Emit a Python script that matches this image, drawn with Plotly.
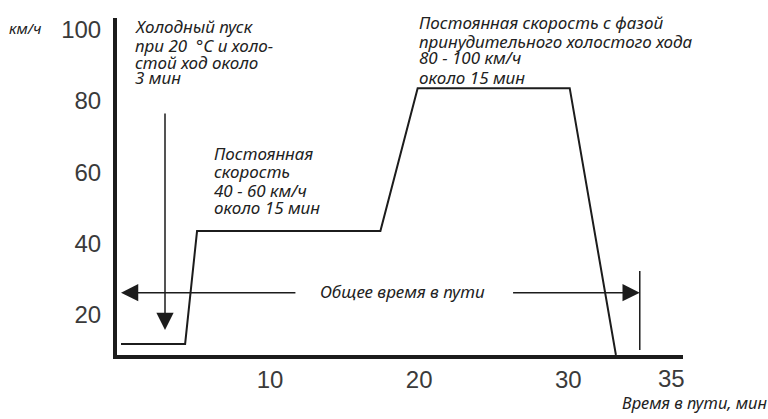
import plotly.graph_objects as go

# Speed profile (time in min, speed in km/h)
time_min = [0.0, 4.3, 5.1, 17.4, 19.9, 30.1, 33.2]
speed_kmh = [11.8, 11.8, 43.5, 43.5, 83.6, 83.6, 8.7]

x_ticks = [10, 20, 30]
y_ticks = [20, 40, 60, 80, 100]

# Total-trip marker and arrows (data coordinates)
total_time = 34.8
total_arrow_speed = 26.2
marker_speed = [10.1, 32.3]
cold_start_time = 2.95
cold_arrow_speed = [76.9, 15.7]

label_cold = ["Холодный пуск", "при 20  °C и холо-", "стой ход около", "3 мин"]
label_mid = ["Постоянная", "скорость", "40 - 60 км/ч", "около 15 мин"]
label_high = ["Постоянная скорость с фазой", "принудительного холостого хода",
              "80 - 100 км/ч", "около 15 мин"]
label_total = "Общее время в пути"
label_xaxis = "Время в пути, мин"
label_yaxis = "км/ч"
label_last_tick = "35"

INK = "#1c1c1c"
TXT = "#222222"
TXTFONT = "Noto Sans"
TICKFONT = dict(family="Liberation Sans", size=24, color="#3a3a3a")

fig = go.Figure()
fig.add_trace(go.Scatter(x=time_min, y=speed_kmh, mode="lines",
                         line=dict(color=INK, width=2), hoverinfo="skip",
                         showlegend=False, cliponaxis=False))
fig.add_trace(go.Scatter(x=[total_time, total_time], y=marker_speed, mode="lines",
                         line=dict(color=INK, width=1.5), hoverinfo="skip",
                         showlegend=False))

ann = []

def arrow(x_tip, y_tip, x_tail, y_tail):
    ann.append(dict(x=x_tip, y=y_tip, ax=x_tail, ay=y_tail, xref="x", yref="y",
                    axref="x", ayref="y", text="", showarrow=True,
                    arrowhead=2, arrowsize=2.3, arrowwidth=1.5, arrowcolor=INK,
                    standoff=0, startstandoff=0))

arrow(cold_start_time, cold_arrow_speed[1], cold_start_time, cold_arrow_speed[0])
arrow(0.0, total_arrow_speed, 11.8, total_arrow_speed)
arrow(total_time, total_arrow_speed, 26.2, total_arrow_speed)

def text_block(lines, x, ys, size=17):
    for t, y in zip(lines, ys):
        ann.append(dict(x=x, y=y, xref="x", yref="y", text="<i>" + t + "</i>",
                        showarrow=False, xanchor="left", yanchor="middle",
                        borderpad=0,
                        font=dict(family=TXTFONT, size=size, color=TXT)))

text_block(label_cold, 0.87, [100.8, 95.7, 90.9, 86.5])
text_block(label_mid, 6.17, [65.4, 60.1, 55.0, 50.0])
text_block(label_high, 19.92, [101.9, 96.8, 92.1, 86.7])

ann.append(dict(x=18.9, y=26.6, xref="x", yref="y", text="<i>" + label_total + "</i>",
                showarrow=False, xanchor="center", yanchor="middle",
                font=dict(family=TXTFONT, size=17, color=TXT)))
# labels outside the plotting area (paper coordinates)
ann.append(dict(x=1.152, y=-0.142, xref="paper", yref="paper",
                text="<i>" + label_xaxis + "</i>",
                showarrow=False, xanchor="right", yanchor="middle",
                font=dict(family=TXTFONT, size=16.5, color=TXT)))
ann.append(dict(x=-0.163, y=0.97, xref="paper", yref="paper",
                text="<i>" + label_yaxis + "</i>",
                showarrow=False, xanchor="center", yanchor="middle",
                font=dict(family=TXTFONT, size=15, color=TXT)))
ann.append(dict(x=0.980, y=-0.071, xref="paper", yref="paper", text=label_last_tick,
                showarrow=False, xanchor="center", yanchor="middle",
                font=TICKFONT))

fig.update_layout(
    width=768, height=419,
    margin=dict(l=117, r=85, t=18, b=64),
    paper_bgcolor="white", plot_bgcolor="white",
    showlegend=False,
    annotations=ann,
    xaxis=dict(range=[-0.27, 37.7], tickvals=x_ticks, showgrid=False, zeroline=False,
               showline=True, linecolor=INK, linewidth=4, ticks="",
               ticklabelstandoff=0, tickfont=TICKFONT),
    yaxis=dict(range=[8.7, 103.3], tickvals=y_ticks, showgrid=False, zeroline=False,
               showline=True, linecolor=INK, linewidth=4, ticks="",
               ticklabelstandoff=7, tickfont=TICKFONT),
)

fig.write_html("out.html", config={"displayModeBar": False},
               post_script="document.body.style.margin='0';document.body.style.overflow='hidden';")
